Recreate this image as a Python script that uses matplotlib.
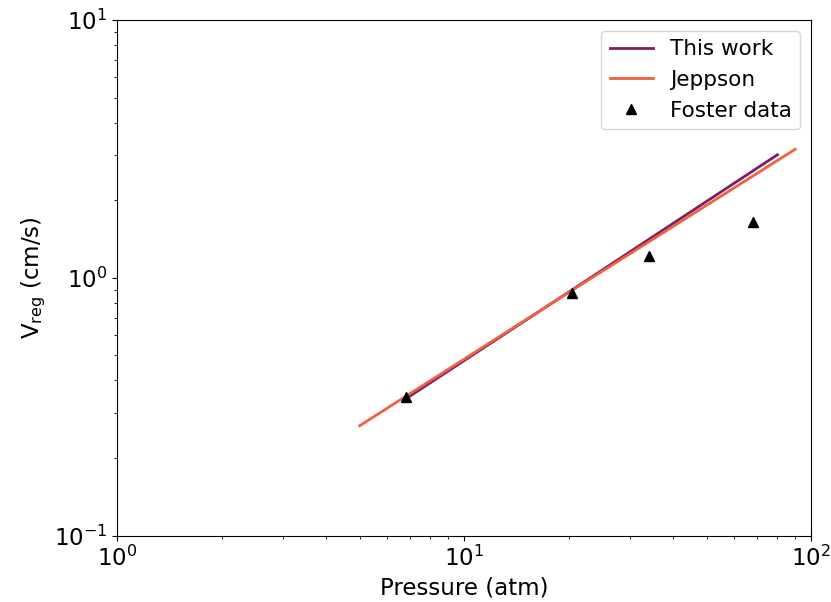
"""Regression rate vs pressure, log-log."""

import matplotlib
matplotlib.use("Agg")
import matplotlib.pyplot as plt

# This work model curve
this_work_p = [6.8, 20.4, 80.0]
this_work_v = [0.34, 0.895, 3.0]

# Jeppson correlation
jeppson_p = [5.0, 20.0, 90.0]
jeppson_v = [0.267, 0.877, 3.15]

# Foster measurements
foster_p = [6.8, 20.4, 34.0, 68.0]
foster_v = [0.346, 0.875, 1.21, 1.65]

plt.rcParams["font.size"] = 16.5

fig = plt.figure(figsize=(8.31, 6.02), dpi=100)
ax = fig.add_axes([0.141, 0.110, 0.835, 0.857])

ax.plot(this_work_p, this_work_v, color="#7a1f66", linewidth=2, label="This work")
ax.plot(jeppson_p, jeppson_v, color="#f1603f", linewidth=2, label="Jeppson")
ax.plot(foster_p, foster_v, "^", color="black", markersize=6.5, linestyle="none",
        label="Foster data")

ax.set_xscale("log")
ax.set_yscale("log")
ax.set_xlim(1, 100)
ax.set_ylim(0.1, 10)
ax.set_xlabel("Pressure (atm)")
ax.set_ylabel(r"V$_{\mathrm{reg}}$ (cm/s)")
ax.legend(loc="upper right", fontsize=15.5)

plt.savefig("out.png", dpi=100)
plt.close()
